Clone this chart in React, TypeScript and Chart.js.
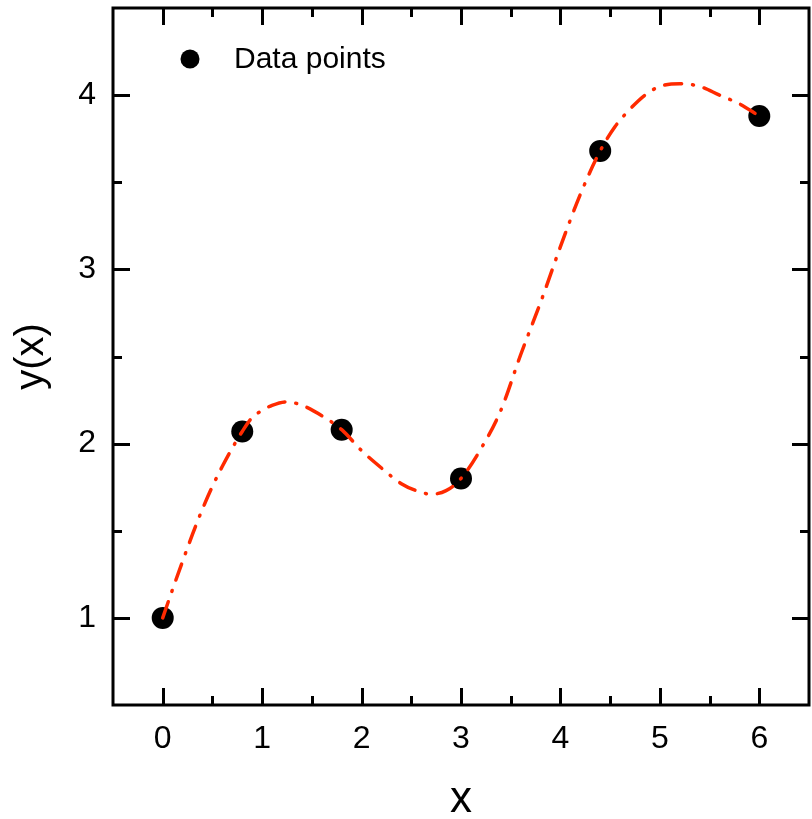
import { useEffect, useRef } from "react";
import { Chart, registerables } from "chart.js";

Chart.register(...registerables);

// Measured points
const pointX = [0, 0.8, 1.8, 3, 4.4, 6];
const pointY = [1, 2.07, 2.08, 1.8, 3.68, 3.88];

// Smooth fitted curve through the points
const curveX = [
  0, 0.1, 0.2, 0.3, 0.4, 0.5, 0.6, 0.7, 0.8, 0.9, 1.0, 1.1, 1.25, 1.4, 1.6, 1.8,
  2.0, 2.2, 2.4, 2.55, 2.7, 2.85, 3.0, 3.2, 3.4, 3.6, 3.8, 4.0, 4.2, 4.4, 4.55,
  4.7, 4.85, 5.0, 5.2, 5.4, 5.6, 5.8, 6.0,
];
const curveY = [
  1.0, 1.165, 1.325, 1.48, 1.625, 1.755, 1.87, 1.975, 2.07, 2.15, 2.19, 2.22,
  2.24, 2.22, 2.16, 2.08, 1.96, 1.86, 1.77, 1.73, 1.71, 1.73, 1.8, 1.97, 2.19,
  2.51, 2.81, 3.13, 3.43, 3.68, 3.82, 3.92, 4.0, 4.05, 4.065, 4.05, 4.0, 3.95,
  3.88,
];

const xRange = [-0.5, 6.5];
const yRange = [0.5, 4.5];
const xMajorTicks = [0, 1, 2, 3, 4, 5, 6];
const xMinorTicks = [0.5, 1.5, 2.5, 3.5, 4.5, 5.5];
const yMajorTicks = [1, 2, 3, 4];
const yMinorTicks = [1.5, 2.5, 3.5];

const pointsLabel = "Data points";
const curveLabel = "Fit";
const xTitle = "x";
const yTitle = "y(x)";

const FONT = "'Liberation Sans', Arial, sans-serif";
const CURVE_COLOR = "#ff2a00";

// Box around the plot with inward major/minor ticks on all four sides
const framePlugin = {
  id: "frame",
  afterDraw(chart: any) {
    const { ctx, chartArea: a, scales } = chart;
    const xs = scales.x;
    const ys = scales.y;
    ctx.save();
    ctx.strokeStyle = "#000";
    ctx.lineWidth = 3;
    ctx.lineCap = "butt";
    ctx.strokeRect(a.left, a.top, a.right - a.left, a.bottom - a.top);
    const seg = (x1: number, y1: number, x2: number, y2: number) => {
      ctx.beginPath();
      ctx.moveTo(x1, y1);
      ctx.lineTo(x2, y2);
      ctx.stroke();
    };
    const vTicks = (vals: number[], len: number) => {
      for (const v of vals) {
        const px = Math.round(xs.getPixelForValue(v)) + 0.5;
        seg(px, a.bottom, px, a.bottom - len);
        seg(px, a.top, px, a.top + len);
      }
    };
    const hTicks = (vals: number[], len: number) => {
      for (const v of vals) {
        const py = Math.round(ys.getPixelForValue(v)) + 0.5;
        seg(a.left, py, a.left + len, py);
        seg(a.right, py, a.right - len, py);
      }
    };
    vTicks(xMajorTicks, 17);
    vTicks(xMinorTicks, 9);
    hTicks(yMajorTicks, 17);
    hTicks(yMinorTicks, 9);
    ctx.restore();
  },
};

// Legend entry drawn inside the plot area
const legendPlugin = {
  id: "insideLegend",
  afterDraw(chart: any) {
    const { ctx, chartArea: a } = chart;
    const ds = chart.data.datasets[1];
    const cx = a.left + 77;
    const cy = a.top + 51;
    ctx.save();
    ctx.fillStyle = ds.pointBackgroundColor;
    ctx.beginPath();
    ctx.arc(cx, cy, 9.5, 0, Math.PI * 2);
    ctx.fill();
    ctx.fillStyle = "#000";
    ctx.font = `30px ${FONT}`;
    ctx.textBaseline = "middle";
    ctx.textAlign = "left";
    ctx.fillText(ds.label, cx + 44, cy + 1);
    ctx.restore();
  },
};

// Keep the plot box at fixed edges regardless of label overhang
const noEdgePadding = (s: any) => {
  s.paddingTop = 0;
  s.paddingBottom = 0;
  s.paddingLeft = 0;
  s.paddingRight = 0;
};

export default function App() {
  const canvasRef = useRef<HTMLCanvasElement | null>(null);

  useEffect(() => {
    const canvas = canvasRef.current;
    if (!canvas) return;

    const chart = new Chart(canvas, {
      type: "scatter",
      data: {
        datasets: [
          {
            label: curveLabel,
            data: curveX.map((x, i) => ({ x, y: curveY[i] })),
            showLine: true,
            borderColor: CURVE_COLOR,
            borderWidth: 3.5,
            borderDash: [17, 11, 1, 11],
            borderCapStyle: "round",
            cubicInterpolationMode: "monotone",
            pointRadius: 0,
            fill: false,
            order: 0,
          },
          {
            label: pointsLabel,
            data: pointX.map((x, i) => ({ x, y: pointY[i] })),
            showLine: false,
            pointRadius: 11,
            pointBorderWidth: 0,
            pointBackgroundColor: "#000",
            pointBorderColor: "#000",
            order: 1,
          },
        ],
      },
      options: {
        responsive: false,
        animation: false,
        layout: { autoPadding: false, padding: { left: 0, right: 3, top: 8, bottom: 0 } },
        plugins: {
          legend: { display: false },
          tooltip: { enabled: false },
        },
        scales: {
          x: {
            type: "linear",
            position: "bottom",
            min: xRange[0],
            max: xRange[1],
            grid: { display: false, drawTicks: false },
            border: { display: false },
            afterBuildTicks: (s: any) => {
              s.ticks = xMajorTicks.map((v) => ({ value: v }));
            },
            afterFit: (s: any) => {
              s.height = 114;
              noEdgePadding(s);
            },
            ticks: {
              color: "#000",
              padding: 15,
              maxRotation: 0,
              autoSkip: false,
              font: { family: FONT, size: 32 },
            },
            title: {
              display: true,
              text: xTitle,
              color: "#000",
              padding: { top: 0, bottom: 0 },
              font: { family: FONT, size: 44, lineHeight: 0.85 },
            },
          },
          y: {
            type: "linear",
            position: "left",
            min: yRange[0],
            max: yRange[1],
            grid: { display: false, drawTicks: false },
            border: { display: false },
            afterBuildTicks: (s: any) => {
              s.ticks = yMajorTicks.map((v) => ({ value: v }));
            },
            afterFit: (s: any) => {
              s.width = 113;
              noEdgePadding(s);
            },
            ticks: {
              color: "#000",
              padding: 17,
              autoSkip: false,
              font: { family: FONT, size: 32 },
            },
            title: {
              display: true,
              text: yTitle,
              color: "#000",
              padding: { top: 8, bottom: 0 },
              font: { family: FONT, size: 40 },
            },
          },
        },
      },
      plugins: [framePlugin, legendPlugin],
    });

    return () => chart.destroy();
  }, []);

  return (
    <div style={{ position: "fixed", left: 0, top: 0, width: 812, height: 819, background: "#fff" }}>
      <canvas ref={canvasRef} width={812} height={819} style={{ display: "block" }} />
    </div>
  );
}
